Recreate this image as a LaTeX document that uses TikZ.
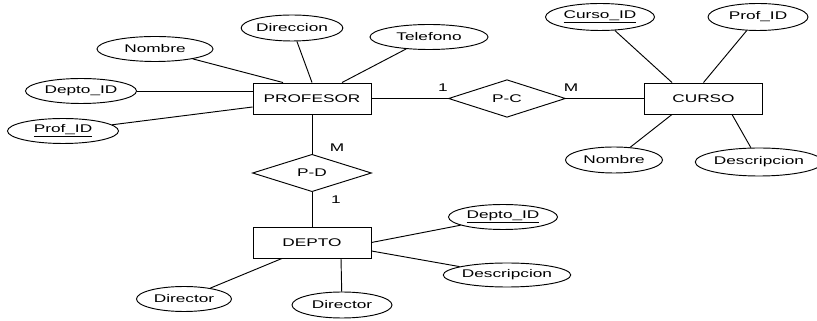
\documentclass[tikz,border=0pt]{standalone}
\usepackage{fontspec}
\setmainfont[FakeStretch=1.55]{Liberation Sans}
\usetikzlibrary{shapes.geometric,calc}

\begin{document}
\begin{tikzpicture}[x=0.03cm,y=-0.03cm,line width=0.8pt,
  txt/.style={font=\fontsize{9.5}{11}\selectfont},
  entidad/.style={txt,draw,minimum width=3.54cm,minimum height=0.93cm,inner sep=0pt},
  relacion/.style={txt,draw,diamond,inner sep=0pt},
  atributo/.style={txt,draw,ellipse,inner sep=0pt,minimum width=#1,minimum height=0.75cm}]
\useasboundingbox (0,0) rectangle (817,321);
% Entidades y relaciones
\node[entidad] (prof) at (312,98.5) {PROFESOR\hspace{0.4cm}};
\node[entidad] (curso) at (703.5,98.5) {CURSO\hspace{0.3cm}};
\node[entidad] (depto) at (312,242.5) {DEPTO\hspace{0.4cm}};
\node[relacion,minimum width=3.51cm,minimum height=0.93cm] (pc) at (507,98.5) {P-C};
\node[relacion,minimum width=3.57cm,minimum height=1.08cm] (pd) at (312,173) {P-D};
% Atributos de PROFESOR
\node[atributo=3.48cm] (nomP) at (155,49) {Nombre};
\node[atributo=3.03cm,minimum height=0.78cm] (dirP) at (292,28) {Direccion};
\node[atributo=3.54cm] (telP) at (429,37) {Telefono};
\node[atributo=3.33cm] (depP) at (81,91) {Depto\_ID};
\node[atributo=3.33cm] (idP) at (63,131) {\underline{Prof\_ID}};
% Atributos de CURSO
\node[atributo=3.27cm,minimum height=0.81cm] (idC) at (600,17) {\underline{Curso\_ID}};
\node[atributo=3.0cm,minimum height=0.81cm] (profC) at (758,17) {Prof\_ID};
\node[atributo=2.91cm,minimum height=0.78cm] (nomC) at (614,160) {Nombre};
\node[atributo=3.45cm,minimum height=0.84cm] (desC) at (759,162) {Descripcion};
% Atributos de DEPTO
\node[atributo=3.27cm] (idD) at (503,217) {\underline{Depto\_ID}};
\node[atributo=3.57cm,minimum height=0.72cm] (desD) at (507,275) {Descripcion};
\node[atributo=2.85cm] (dir1) at (184,299) {Director};
\node[atributo=3.0cm,minimum height=0.78cm] (dir2) at (342,305) {Director};
% Lineas
\draw ($(prof.north)+(-29,0)$) -- (nomP);
\draw (prof.north) -- (dirP);
\draw ($(prof.north)+(30,0)$) -- (telP);
\draw ($(prof.west)+(0,-7.5)$) -- (depP);
\draw ($(prof.west)+(0,8.5)$) -- (idP);
\draw (prof.east) -- (pc.west);
\draw (pc.east) -- (curso.west);
\draw ($(curso.north)+(-31.5,0)$) -- (idC);
\draw (curso.north) -- (profC);
\draw ($(curso.south)+(-31.5,0)$) -- (nomC);
\draw ($(curso.south)+(28.5,0)$) -- (desC);
\draw (prof.south) -- (pd.north);
\draw (pd.south) -- (depto.north);
\draw (depto.east) -- (idD);
\draw ($(depto.east)+(0,8.5)$) -- (desD);
\draw ($(depto.south)+(-30,0)$) -- (dir1);
\draw ($(depto.south)+(29,0)$) -- (dir2);
% Cardinalidades
\node[txt] (c1) at (443,88) {1};
\node[txt] (c2) at (571,88) {M};
\node[txt] (c3) at (337,148) {M};
\node[txt] (c4) at (336,200) {1};
\end{tikzpicture}
\end{document}
